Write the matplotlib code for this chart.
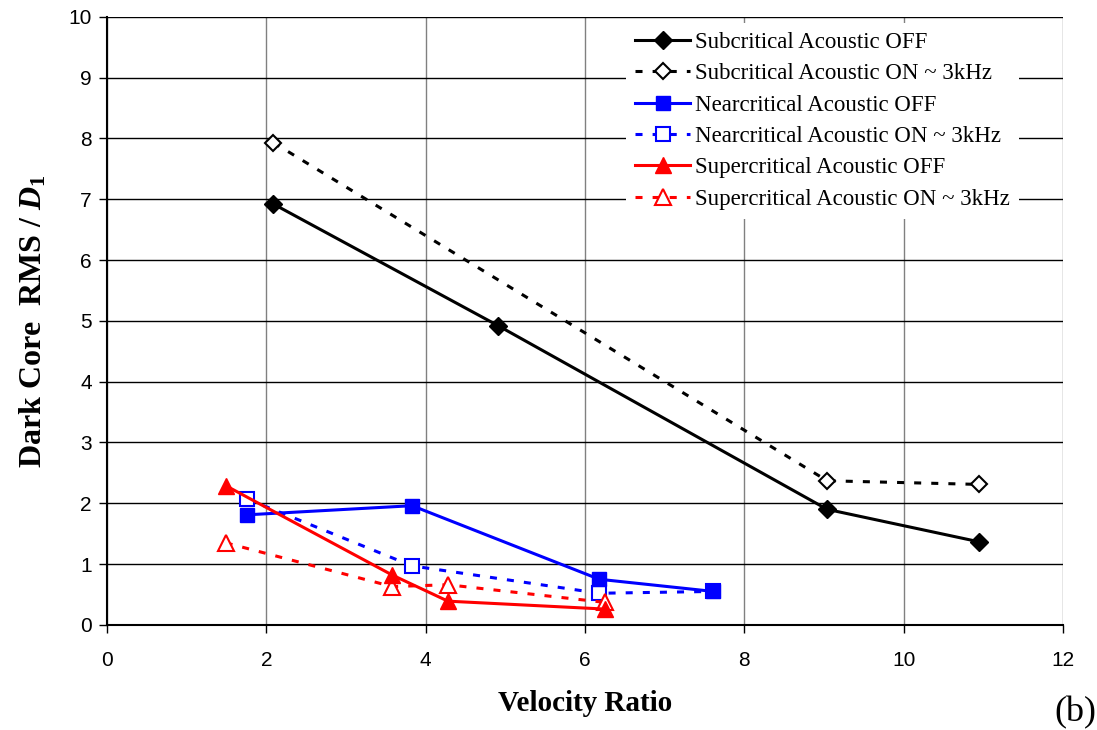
import matplotlib.pyplot as plt

plt.rcParams['mathtext.fontset'] = 'custom'
plt.rcParams['mathtext.rm'] = 'Liberation Serif:bold'
plt.rcParams['mathtext.it'] = 'Liberation Serif:italic:bold'

# velocity ratio / dark core RMS per condition
sub_x = [2.09, 4.91, 9.04, 10.95]
sub_off = [6.92, 4.92, 1.90, 1.365]
sub_on_x = [2.09, 9.04, 10.95]
sub_on = [7.93, 2.37, 2.31]

near_x = [1.76, 3.83, 6.18, 7.61]
near_off = [1.81, 1.96, 0.75, 0.55]
near_on = [2.07, 0.97, 0.52, 0.55]

super_x = [1.49, 3.58, 4.28, 6.25]
super_off = [2.29, 0.82, 0.39, 0.26]
super_on = [1.35, 0.63, 0.66, 0.37]

labels = ["Subcritical Acoustic OFF", "Subcritical Acoustic ON ~ 3kHz",
          "Nearcritical Acoustic OFF", "Nearcritical Acoustic ON ~ 3kHz",
          "Supercritical Acoustic OFF", "Supercritical Acoustic ON ~ 3kHz"]

fig = plt.figure(figsize=(10.97, 7.30), dpi=100)
ax = fig.add_axes([0.0975, 0.144, 0.8715, 0.833])

lw = 2.2
dash = (0, (2.3, 3.3))
ax.plot(sub_x, sub_off, color='black', lw=lw, marker='D', ms=9, zorder=4, label=labels[0])
ax.plot(sub_on_x, sub_on, color='black', lw=lw, ls=dash, marker='D', ms=8.5,
        mfc='white', mec='black', mew=1.5, zorder=3, label=labels[1])
ax.plot(near_x, near_off, color='#0000ff', lw=lw, marker='s', ms=10, zorder=4, label=labels[2])
ax.plot(near_x, near_on, color='#0000ff', lw=lw, ls=dash, marker='s', ms=10,
        mfc='white', mec='#0000ff', mew=1.5, zorder=3, label=labels[3])
ax.plot(super_x, super_off, color='#ff0000', lw=lw, marker='^', ms=11, zorder=4, label=labels[4])
ax.plot(super_x, super_on, color='#ff0000', lw=lw, ls=dash, marker='^', ms=11,
        mfc='white', mec='#ff0000', mew=1.5, zorder=3, label=labels[5])

ax.set_xlim(0, 12)
ax.set_ylim(0, 10)
ax.set_xticks(range(0, 13, 2))
ax.set_yticks(range(0, 11))
ax.yaxis.grid(True, color='black', lw=1)
ax.xaxis.grid(True, color='#808080', lw=1)
ax.set_axisbelow(True)
for s in ['top', 'right']:
    ax.spines[s].set_visible(False)
for s in ['left', 'bottom']:
    ax.spines[s].set_linewidth(1.5)
ax.tick_params(direction='out', length=6, width=1, labelsize=15)
for t in ax.get_xticklabels() + ax.get_yticklabels():
    t.set_fontfamily('Liberation Sans')
ax.tick_params(axis='x', pad=13)
ax.tick_params(axis='y', pad=5)

ax.set_xlabel("Velocity Ratio", fontfamily='Liberation Serif', fontweight='bold',
              fontsize=21, labelpad=14)
ax.set_ylabel("Dark Core  RMS / $\\mathit{D}_\\mathit{1}$", fontfamily='Liberation Serif',
              fontweight='bold', fontsize=23, labelpad=14)

leg = ax.legend(loc='upper left', bbox_to_anchor=(0.531, 1.009), frameon=True,
                fancybox=False, framealpha=1, edgecolor='none', facecolor='white',
                prop={'family': 'Liberation Serif', 'size': 16.5},
                handlelength=2.4, handletextpad=0.2, labelspacing=0.45,
                borderpad=0.4)

fig.text(0.999, 0.012, "(b)", fontfamily='Liberation Serif', fontsize=26, ha='right')

fig.savefig('out.png', dpi=100)
